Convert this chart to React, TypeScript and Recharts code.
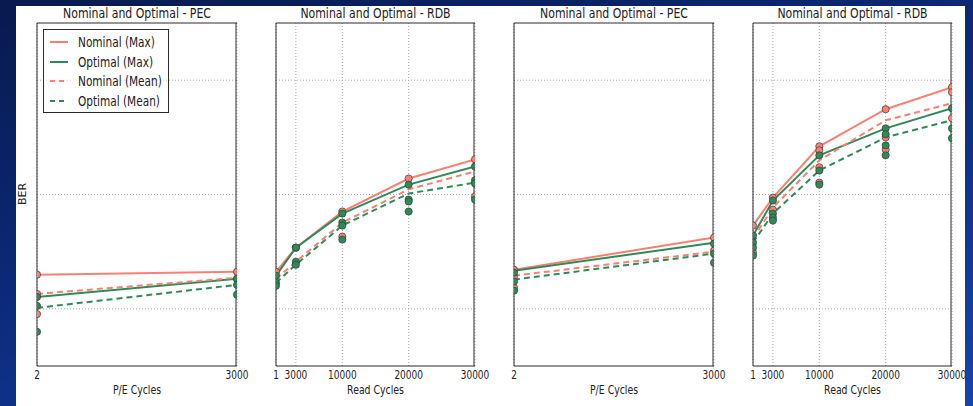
import React from 'react'
import { ComposedChart, Line, Scatter, XAxis, YAxis, CartesianGrid, Label, ReferenceLine } from 'recharts'

const NOMINAL = '#fa8072'
const OPTIMAL = '#2e8b57'
const FRAME = '#2b2b2b'
const GRID = '#a8a8a8'
const SQUEEZE = 0.78

const pecCycles = [2, 3000]
const readCycles = [1, 3000, 10000, 20000, 30000]

const berDomain = [3.162e-6, 3.162e-3]
const majorBer = [1e-5, 1e-4, 1e-3]
const minorBer = [
  4e-6, 5e-6, 6e-6, 7e-6, 8e-6, 9e-6,
  2e-5, 3e-5, 4e-5, 5e-5, 6e-5, 7e-5, 8e-5, 9e-5,
  2e-4, 3e-4, 4e-4, 5e-4, 6e-4, 7e-4, 8e-4, 9e-4,
  2e-3, 3e-3,
]

// first PEC panel
const pecNominalMax1 = [1.99e-5, 2.11e-5]
const pecOptimalMax1 = [1.27e-5, 1.83e-5]
const pecNominalMean1 = [1.35e-5, 1.87e-5]
const pecOptimalMean1 = [1.02e-5, 1.62e-5]
const pecNominalRuns1 = [[2, 1.99e-5], [2, 1.35e-5], [2, 9.0e-6], [3000, 2.11e-5], [3000, 1.83e-5]]
const pecOptimalRuns1 = [[2, 1.27e-5], [2, 1.06e-5], [2, 6.3e-6], [3000, 1.83e-5], [3000, 1.62e-5], [3000, 1.33e-5]]

// first RDB panel
const rdbNominalMax1 = [2.11e-5, 3.43e-5, 7.1e-5, 1.38e-4, 2.03e-4]
const rdbOptimalMax1 = [1.95e-5, 3.43e-5, 6.81e-5, 1.22e-4, 1.76e-4]
const rdbNominalMean1 = [1.83e-5, 2.58e-5, 5.68e-5, 1.11e-4, 1.59e-4]
const rdbOptimalMean1 = [1.69e-5, 2.43e-5, 5.35e-5, 1.02e-4, 1.27e-4]
const rdbNominalRuns1 = [
  [1, 2.11e-5], [3000, 3.43e-5], [10000, 7.1e-5], [10000, 4.28e-5],
  [20000, 1.38e-4], [30000, 2.03e-4], [30000, 9.6e-5],
]
const rdbOptimalRuns1 = [
  [1, 1.95e-5], [1, 1.69e-5], [1, 1.59e-5],
  [3000, 3.43e-5], [3000, 2.58e-5], [3000, 2.43e-5],
  [10000, 6.81e-5], [10000, 5.68e-5], [10000, 5.35e-5], [10000, 4.03e-5],
  [20000, 1.22e-4], [20000, 9.04e-5], [20000, 8.68e-5], [20000, 7.1e-5],
  [30000, 1.76e-4], [30000, 1.33e-4], [30000, 1.25e-4], [30000, 9.04e-5],
]

// second PEC panel
const pecNominalMax2 = [2.2e-5, 4.2e-5]
const pecOptimalMax2 = [2.15e-5, 3.79e-5]
const pecNominalMean2 = [1.95e-5, 3.16e-5]
const pecOptimalMean2 = [1.8e-5, 3.04e-5]
const pecNominalRuns2 = [[2, 2.2e-5], [2, 1.91e-5], [2, 1.53e-5], [3000, 4.2e-5], [3000, 3.23e-5]]
const pecOptimalRuns2 = [[2, 2.07e-5], [2, 1.73e-5], [2, 1.44e-5], [3000, 3.72e-5], [3000, 3.04e-5], [3000, 2.53e-5]]

// second RDB panel
const rdbNominalMax2 = [5.35e-5, 9.4e-5, 2.64e-4, 5.57e-4, 8.68e-4]
const rdbOptimalMax2 = [4.37e-5, 8.86e-5, 2.2e-4, 3.79e-4, 5.68e-4]
const rdbNominalMean2 = [4.11e-5, 7.69e-5, 1.99e-4, 4.46e-4, 6.28e-4]
const rdbOptimalMean2 = [3.79e-5, 6.81e-5, 1.62e-4, 3.16e-4, 4.46e-4]
const rdbNominalRuns2 = [
  [1, 5.35e-5], [1, 3.1e-5], [3000, 9.4e-5], [3000, 7.38e-5],
  [10000, 2.64e-4], [10000, 2.43e-4], [10000, 1.73e-4], [10000, 1.27e-4],
  [20000, 5.57e-4], [20000, 3.16e-4], [20000, 2.48e-4],
  [30000, 8.68e-4], [30000, 7.85e-4], [30000, 4.64e-4],
]
const rdbOptimalRuns2 = [
  [1, 4.37e-5], [1, 3.79e-5], [1, 3.43e-5], [1, 2.92e-5],
  [3000, 8.86e-5], [3000, 6.81e-5], [3000, 6.28e-5], [3000, 5.91e-5],
  [10000, 2.2e-4], [10000, 1.62e-4], [10000, 1.22e-4],
  [20000, 3.79e-4], [20000, 3.36e-4], [20000, 2.69e-4], [20000, 2.2e-4],
  [30000, 5.68e-4], [30000, 3.79e-4], [30000, 3.1e-4],
]

const legendItems = [
  { name: 'Nominal (Max)', color: NOMINAL, dashed: false },
  { name: 'Optimal (Max)', color: OPTIMAL, dashed: false },
  { name: 'Nominal (Mean)', color: NOMINAL, dashed: true },
  { name: 'Optimal (Mean)', color: OPTIMAL, dashed: true },
]

const SqueezedTick = ({ x, y, payload }: any) => (
  <text
    transform={`translate(${x},${y}) scale(${SQUEEZE},1)`}
    textAnchor="middle"
    dy="0.75em"
    fontSize={11.5}
    fill="#222"
  >
    {payload.value}
  </text>
)

const RunDot = (color: string) => (p: any) => (
  <circle cx={p.cx} cy={p.cy} r={3.6} fill={color} stroke="#3a3a3a" strokeWidth={0.7} />
)

interface PanelProps {
  plotLeft: number
  plotWidth: number
  title: string
  xLabel: string
  xs: number[]
  nominalMax: number[]
  optimalMax: number[]
  nominalMean: number[]
  optimalMean: number[]
  nominalRuns: number[][]
  optimalRuns: number[][]
  children?: React.ReactNode
}

function Panel(props: PanelProps) {
  const { plotLeft, plotWidth, title, xLabel, xs } = props
  const width = plotWidth + 40
  const xDomain = [xs[0], xs[xs.length - 1]]
  const toLine = (vals: number[]) => xs.map((x, i) => ({ x, y: vals[i] }))
  const toPts = (pts: number[][]) => pts.map(([x, y]) => ({ x, y }))

  return (
    <div style={{ position: 'absolute', left: plotLeft - 20, top: 0, width, height: 406 }}>
      <div
        style={{
          position: 'absolute', left: 0, width, top: 4, lineHeight: '18px',
          textAlign: 'center', fontSize: 14, color: '#222',
          transform: `scaleX(${SQUEEZE})`, whiteSpace: 'nowrap',
        }}
      >
        {title}
      </div>
      <ComposedChart width={width} height={406} margin={{ top: 23, right: 20, bottom: 0, left: 20 }}>
        <CartesianGrid xAxisId="x" yAxisId="y" horizontal={false} stroke={GRID} strokeDasharray="1 2" />
        <XAxis
          xAxisId="x" dataKey="x" type="number" domain={xDomain} ticks={xs} interval={0}
          allowDataOverflow height={40} tickLine={false} tickSize={2} tickMargin={2}
          axisLine={{ stroke: FRAME }} tick={<SqueezedTick />}
        >
          <Label
            content={({ viewBox }: any) => (
              <text
                transform={`translate(${viewBox.x + viewBox.width / 2},${viewBox.y + 24}) scale(${SQUEEZE},1)`}
                textAnchor="middle" dy="0.35em" fontSize={12} fill="#222"
              >
                {xLabel}
              </text>
            )}
          />
        </XAxis>
        <XAxis
          xAxisId="xb" type="number" domain={xDomain} ticks={xs} interval={0} allowDataOverflow
          mirror height={1} tick={false} tickSize={4} axisLine={false} tickLine={{ stroke: FRAME }}
        />
        <XAxis
          xAxisId="xt" orientation="top" type="number" domain={xDomain} ticks={xs} interval={0}
          allowDataOverflow mirror height={1} tick={false} tickSize={4}
          axisLine={{ stroke: FRAME }} tickLine={{ stroke: FRAME }}
        />
        <YAxis
          yAxisId="y" dataKey="y" type="number" scale="log" domain={berDomain} ticks={majorBer}
          interval={0} allowDataOverflow mirror width={1} tick={false} tickSize={5}
          axisLine={{ stroke: FRAME }} tickLine={{ stroke: FRAME }}
        />
        <YAxis
          yAxisId="yMinL" type="number" scale="log" domain={berDomain} ticks={minorBer}
          interval={0} allowDataOverflow mirror width={1} tick={false} tickSize={2.5}
          axisLine={false} tickLine={{ stroke: FRAME }}
        />
        <YAxis
          yAxisId="yR" orientation="right" type="number" scale="log" domain={berDomain}
          ticks={majorBer} interval={0} allowDataOverflow mirror width={1} tick={false} tickSize={5}
          axisLine={{ stroke: FRAME }} tickLine={{ stroke: FRAME }}
        />
        <YAxis
          yAxisId="yMinR" orientation="right" type="number" scale="log" domain={berDomain}
          ticks={minorBer} interval={0} allowDataOverflow mirror width={1} tick={false} tickSize={2.5}
          axisLine={false} tickLine={{ stroke: FRAME }}
        />
        {majorBer.map((v) => (
          <ReferenceLine
            key={v} xAxisId="x" yAxisId="y" y={v} stroke={GRID} strokeDasharray="1 2"
          />
        ))}
        <Line
          xAxisId="x" yAxisId="y" data={toLine(props.nominalMax)} dataKey="y" type="linear"
          stroke={NOMINAL} strokeWidth={2} dot={false} isAnimationActive={false}
        />
        <Line
          xAxisId="x" yAxisId="y" data={toLine(props.optimalMax)} dataKey="y" type="linear"
          stroke={OPTIMAL} strokeWidth={2} dot={false} isAnimationActive={false}
        />
        <Line
          xAxisId="x" yAxisId="y" data={toLine(props.nominalMean)} dataKey="y" type="linear"
          stroke={NOMINAL} strokeWidth={2} strokeDasharray="6 4" dot={false} isAnimationActive={false}
        />
        <Line
          xAxisId="x" yAxisId="y" data={toLine(props.optimalMean)} dataKey="y" type="linear"
          stroke={OPTIMAL} strokeWidth={2} strokeDasharray="6 4" dot={false} isAnimationActive={false}
        />
        <Scatter
          xAxisId="x" yAxisId="y" data={toPts(props.nominalRuns)} shape={RunDot(NOMINAL)}
          isAnimationActive={false}
        />
        <Scatter
          xAxisId="x" yAxisId="y" data={toPts(props.optimalRuns)} shape={RunDot(OPTIMAL)}
          isAnimationActive={false}
        />
      </ComposedChart>
      {props.children}
    </div>
  )
}

function LegendBox() {
  return (
    <div
      style={{
        position: 'absolute', left: 26, top: 29, width: 124, height: 82,
        border: `1px solid ${FRAME}`, background: 'rgba(255,255,255,0.55)',
      }}
    >
      {legendItems.map((item, i) => (
        <div key={item.name} style={{ position: 'absolute', left: 0, top: 3 + i * 19.5, height: 18, width: 124 }}>
          <svg width={24} height={18} style={{ position: 'absolute', left: 5, top: 0 }}>
            <line
              x1={1} y1={9} x2={19} y2={9} stroke={item.color} strokeWidth={2}
              strokeDasharray={item.dashed ? '5 4' : undefined}
            />
          </svg>
          <span
            style={{
              position: 'absolute', left: 34, top: 0, lineHeight: '18px', fontSize: 13.5,
              color: '#222', whiteSpace: 'nowrap', transform: `scaleX(${SQUEEZE})`,
              transformOrigin: 'left center',
            }}
          >
            {item.name}
          </span>
        </div>
      ))}
    </div>
  )
}

export default function App() {
  return (
    <div
      style={{
        position: 'absolute', left: 0, top: 0, width: 973, height: 406, overflow: 'hidden',
        background: 'linear-gradient(165deg, #081a4e 0%, #0c2a78 45%, #1544b0 100%)',
        fontFamily: '"DejaVu Sans", sans-serif',
      }}
    >
      <div style={{ position: 'absolute', left: 16, top: 6, width: 949, height: 400, background: '#fff' }} />
      <div
        style={{
          position: 'absolute', left: 22, top: 194, fontSize: 11, color: '#222',
          transform: 'translate(-50%, -50%) rotate(-90deg)', whiteSpace: 'nowrap',
        }}
      >
        BER
      </div>
      <Panel
        plotLeft={37} plotWidth={200} title="Nominal and Optimal - PEC" xLabel="P/E Cycles"
        xs={pecCycles} nominalMax={pecNominalMax1} optimalMax={pecOptimalMax1}
        nominalMean={pecNominalMean1} optimalMean={pecOptimalMean1}
        nominalRuns={pecNominalRuns1} optimalRuns={pecOptimalRuns1}
      >
        <LegendBox />
      </Panel>
      <Panel
        plotLeft={276} plotWidth={199} title="Nominal and Optimal - RDB" xLabel="Read Cycles"
        xs={readCycles} nominalMax={rdbNominalMax1} optimalMax={rdbOptimalMax1}
        nominalMean={rdbNominalMean1} optimalMean={rdbOptimalMean1}
        nominalRuns={rdbNominalRuns1} optimalRuns={rdbOptimalRuns1}
      />
      <Panel
        plotLeft={514} plotWidth={200} title="Nominal and Optimal - PEC" xLabel="P/E Cycles"
        xs={pecCycles} nominalMax={pecNominalMax2} optimalMax={pecOptimalMax2}
        nominalMean={pecNominalMean2} optimalMean={pecOptimalMean2}
        nominalRuns={pecNominalRuns2} optimalRuns={pecOptimalRuns2}
      />
      <Panel
        plotLeft={753} plotWidth={199} title="Nominal and Optimal - RDB" xLabel="Read Cycles"
        xs={readCycles} nominalMax={rdbNominalMax2} optimalMax={rdbOptimalMax2}
        nominalMean={rdbNominalMean2} optimalMean={rdbOptimalMean2}
        nominalRuns={rdbNominalRuns2} optimalRuns={rdbOptimalRuns2}
      />
    </div>
  )
}
